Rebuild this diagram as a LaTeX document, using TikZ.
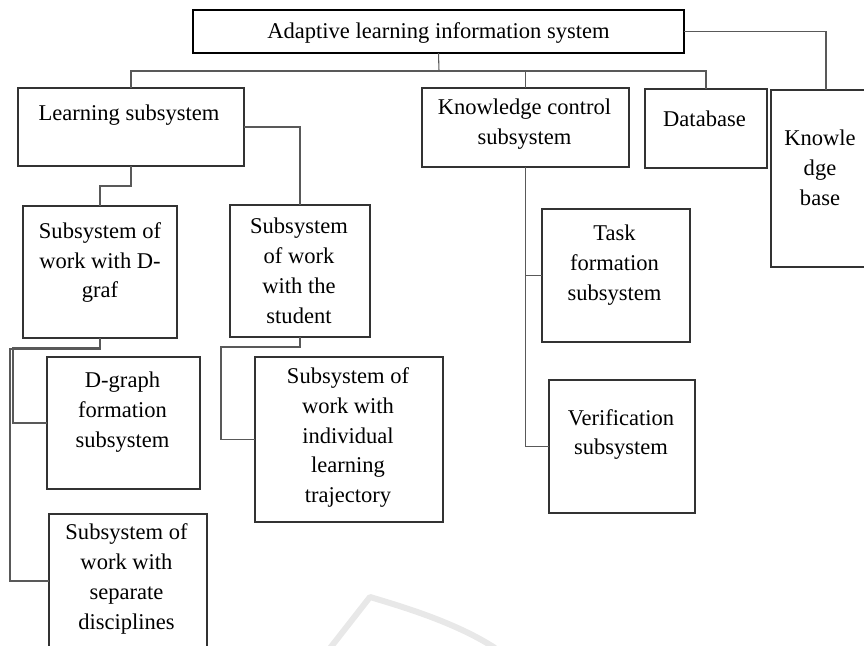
\documentclass[tikz,border=0pt]{standalone}
\usepackage{fontspec}
\setmainfont{Liberation Serif}
\begin{document}
\begin{tikzpicture}[x=0.75pt,y=-0.75pt,
  box/.style={draw=black!80, line width=0.8pt, rectangle, inner sep=0pt, outer sep=0pt},
  conn/.style={draw=black!65, line width=0.8pt},
  txt/.style={align=center, font=\fontsize{16.9}{22.4}\selectfont, inner sep=0pt, text=black}]
\useasboundingbox (0,0) rectangle (864,646);

% faint watermark
\draw[black!9, line width=4.5pt, line join=round] (327,652) -- (370,597) .. controls (400,606) and (455,622) .. (495,648);

% boxes
\node[box, draw=black, line width=1.6pt, minimum width=368.25pt, minimum height=32.25pt] (top) at (438.5,31.5) {};
\node[box, minimum width=169.5pt, minimum height=58.5pt] (learn) at (131,127) {};
\node[box, minimum width=155.25pt, minimum height=59.25pt] (kc) at (525.5,127.5) {};
\node[box, minimum width=91.5pt, minimum height=59.25pt] (db) at (706,128.5) {};
\node[box, minimum width=71.25pt, minimum height=132.75pt] (kb) at (818.5,178.5) {};
\node[box, minimum width=115.5pt, minimum height=99pt] (dgraf) at (100,272) {};
\node[box, minimum width=105pt, minimum height=99pt] (stud) at (300,271) {};
\node[box, minimum width=111pt, minimum height=99.75pt] (task) at (616,275.5) {};
\node[box, minimum width=109.5pt, minimum height=99.75pt] (verif) at (622,446.5) {};
\node[box, minimum width=114.75pt, minimum height=99pt] (dform) at (123.5,423) {};
\node[box, minimum width=118.5pt, minimum height=100.5pt] (sep) at (128,581) {};
\node[box, minimum width=141pt, minimum height=123.75pt] (indiv) at (349,439.5) {};

% texts
\node[txt] (t-top) at (438.5,33) {Adaptive learning information system};
\node[txt] (t-learn) at (129,115.5) {Learning subsystem};
\node[txt] (t-kc) at (524.5,124) {Knowledge control\\subsystem};
\node[txt] (t-db) at (704.5,118.5) {Database};
\node[txt] (t-kb) at (820,168) {Knowle\\dge\\base};
\node[txt] (t-dgraf) at (100,262.5) {Subsystem of\\work with D-\\graf};
\node[txt] (t-stud) at (299,271) {Subsystem\\of work\\with the\\student};
\node[txt] (t-task) at (614.5,265) {Task\\formation\\subsystem};
\node[txt] (t-verif) at (621,434.5) {Verification\\subsystem};
\node[txt] (t-dform) at (122.5,412) {D-graph\\formation\\subsystem};
\node[txt] (t-sep) at (126.5,579) {Subsystem of\\work with\\separate\\disciplines};
\node[txt] (t-indiv) at (348,437.5) {Subsystem of\\work with\\individual\\learning\\trajectory};

% connectors
\coordinate (bus) at (439,71);
\coordinate (kbx) at (826,0);
\draw[conn] (top.south) -- (bus);
\draw[conn] (learn.north) |- (bus) -| (db.north);
\draw[conn] (kc.north) -- (kc.north |- bus);
\draw[conn] (top.east) -| (kb.north -| kbx);
\draw[conn] (learn.east) -| (stud.north);
\draw[conn] (learn.south) -- ++(0,20) -| (dgraf.north);
\draw[conn] (dgraf.south) -- ++(0,10) -- ++(-87,0) |- (dform.west);
\draw[conn] (dgraf.south) -- ++(0,11) -- ++(-90,0) |- (sep.west);
\draw[conn] (stud.south) -- ++(0,10) -- ++(-79,0) |- (indiv.west);
\draw[conn] (kc.south) |- (task.west);
\draw[conn] (kc.south) |- (verif.west);
\end{tikzpicture}
\end{document}
